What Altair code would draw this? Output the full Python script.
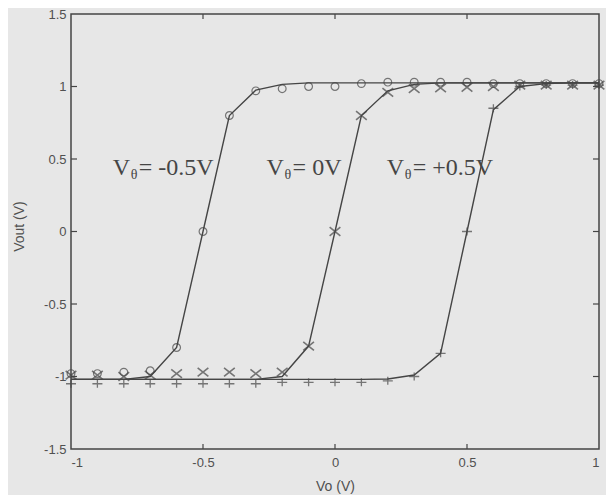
import altair as alt
import pandas as pd

# ---------------- data ----------------
vo = [-1.0, -0.9, -0.8, -0.7, -0.6, -0.5, -0.4, -0.3, -0.2, -0.1, 0.0,
      0.1, 0.2, 0.3, 0.4, 0.5, 0.6, 0.7, 0.8, 0.9, 1.0]

# measured points (markers)
meas_neg = [-0.98, -0.98, -0.97, -0.96, -0.80, 0.00, 0.80, 0.97, 0.985, 1.00, 1.00,
            1.02, 1.03, 1.03, 1.03, 1.03, 1.02, 1.02, 1.02, 1.02, 1.02]
meas_zero = [-0.99, -0.99, -1.00, -0.99, -0.98, -0.97, -0.97, -0.98, -0.97, -0.79, 0.00,
             0.80, 0.96, 0.985, 0.99, 0.995, 1.00, 1.01, 1.01, 1.01, 1.01]
meas_pos = [-1.05, -1.05, -1.05, -1.05, -1.05, -1.05, -1.05, -1.05, -1.04, -1.04, -1.04,
            -1.04, -1.03, -1.00, -0.84, 0.00, 0.85, 1.00, 1.01, 1.01, 1.01]

# model curves (solid lines)
model_neg = [-1.02, -1.02, -1.02, -1.00, -0.80, 0.00, 0.80, 0.975, 1.015, 1.025, 1.025,
             1.025, 1.025, 1.025, 1.025, 1.025, 1.025, 1.025, 1.025, 1.025, 1.025]
model_zero = [-1.02, -1.02, -1.02, -1.02, -1.02, -1.02, -1.02, -1.02, -1.00, -0.79, 0.00,
              0.80, 0.97, 1.015, 1.025, 1.025, 1.025, 1.025, 1.025, 1.025, 1.025]
model_pos = [-1.02, -1.02, -1.02, -1.02, -1.02, -1.02, -1.02, -1.02, -1.02, -1.02, -1.02,
             -1.02, -1.017, -0.99, -0.84, 0.00, 0.84, 1.00, 1.02, 1.025, 1.025]

series_names = ["-0.5V", "0V", "+0.5V"]

x_ticks = [-1, -0.5, 0, 0.5, 1]
y_ticks = [-1.5, -1, -0.5, 0, 0.5, 1, 1.5]
inner_x_ticks = [-0.5, 0, 0.5]
inner_y_ticks = [-1, -0.5, 0, 0.5, 1]

label_x = [-0.842, -0.259, 0.196]
label_y = [0.39, 0.39, 0.39]
label_rest = ["= -0.5V", "= 0V", "= +0.5V"]

# ---------------- tables ----------------
ink = "#454545"
W, H = 528, 435

lines_df = pd.DataFrame({
    "vo": vo * 3,
    "vout": model_neg + model_zero + model_pos,
    "series": sum([[s] * len(vo) for s in series_names], []),
})
neg_df = pd.DataFrame({"vo": vo, "vout": meas_neg})
zero_df = pd.DataFrame({"vo": vo, "vout": meas_zero})
pos_df = pd.DataFrame({"vo": vo, "vout": meas_pos})
lab_df = pd.DataFrame({"x": label_x, "y": label_y, "rest": label_rest})
xt_df = pd.DataFrame({"v": inner_x_ticks})
yt_df = pd.DataFrame({"v": inner_y_ticks})

xscale = alt.Scale(domain=[-1, 1], nice=False, zero=False)
yscale = alt.Scale(domain=[-1.5, 1.5], nice=False, zero=False)

xaxis = alt.Axis(values=x_ticks, labelExpr="'' + datum.value", ticks=False, domain=False,
                 grid=False, labelPadding=7, title="Vo (V)", titleX=W / 2, titleY=37,
                 titleBaseline="middle", titleAlign="center")
yaxis = alt.Axis(values=y_ticks, labelExpr="'' + datum.value", ticks=False, domain=False,
                 grid=False, labelPadding=5, title="Vout (V)", titleX=-52, titleY=212,
                 titleBaseline="middle", titleAlign="center", titleAngle=-90)

X = alt.X("vo:Q", scale=xscale, axis=xaxis)
Y = alt.Y("vout:Q", scale=yscale, axis=yaxis)

lines = alt.Chart(lines_df).mark_line(color=ink, strokeWidth=1.4).encode(
    x=X, y=Y, detail="series:N")

circles = alt.Chart(neg_df).mark_point(shape="circle", filled=False, size=60,
                                       color=ink, strokeWidth=1.2).encode(
    x=alt.X("vo:Q", scale=xscale), y=alt.Y("vout:Q", scale=yscale))
crosses = alt.Chart(zero_df).mark_point(shape="M-1,-0.8L1,0.8M-1,0.8L1,-0.8", filled=False,
                                        size=115, color=ink, strokeWidth=1.6).encode(
    x=alt.X("vo:Q", scale=xscale), y=alt.Y("vout:Q", scale=yscale))
pluses = alt.Chart(pos_df).mark_point(shape="M-1,0L1,0M0,-0.8L0,0.8", filled=False,
                                      size=100, color=ink, strokeWidth=1.3).encode(
    x=alt.X("vo:Q", scale=xscale), y=alt.Y("vout:Q", scale=yscale))

serif = "Liberation Serif"
txt_v = alt.Chart(lab_df).mark_text(text="V", font=serif, fontSize=24, color=ink,
                                    align="left", baseline="alphabetic").encode(
    x=alt.X("x:Q", scale=xscale), y=alt.Y("y:Q", scale=yscale))
txt_t = alt.Chart(lab_df).mark_text(text="θ", font=serif, fontSize=14, color=ink,
                                    align="left", baseline="alphabetic", dx=18, dy=4).encode(
    x=alt.X("x:Q", scale=xscale), y=alt.Y("y:Q", scale=yscale))
txt_r = alt.Chart(lab_df).mark_text(font=serif, fontSize=24, color=ink,
                                    align="left", baseline="alphabetic", dx=26).encode(
    x=alt.X("x:Q", scale=xscale), y=alt.Y("y:Q", scale=yscale), text="rest:N")

tick_bottom = alt.Chart(xt_df).mark_rule(color=ink, strokeWidth=1.2).encode(
    x=alt.X("v:Q", scale=xscale), y=alt.value(H), y2=alt.value(H - 5))
tick_top = alt.Chart(xt_df).mark_rule(color=ink, strokeWidth=1.2).encode(
    x=alt.X("v:Q", scale=xscale), y=alt.value(0), y2=alt.value(5))
tick_left = alt.Chart(yt_df).mark_rule(color=ink, strokeWidth=1.2).encode(
    y=alt.Y("v:Q", scale=yscale), x=alt.value(0), x2=alt.value(6))
tick_right = alt.Chart(yt_df).mark_rule(color=ink, strokeWidth=1.2).encode(
    y=alt.Y("v:Q", scale=yscale), x=alt.value(W), x2=alt.value(W - 6))

chart = alt.layer(
    lines, tick_bottom, tick_top, tick_left, tick_right,
    circles, crosses, pluses, txt_v, txt_t, txt_r
).properties(
    width=W, height=H,
    autosize=alt.AutoSizeParams(type="none"),
    padding={"left": 63, "top": 6, "right": 7, "bottom": 46},
    background="#e7e7e7",
).configure_view(
    stroke=ink, strokeWidth=1.5
).configure_axis(
    labelFont="Liberation Sans", labelFontSize=13, labelColor="#505050",
    titleFont="Liberation Sans", titleFontSize=14, titleFontWeight="normal",
    titleColor="#505050",
)

chart.save("out.html", embed_options={"renderer": "svg", "actions": False})
